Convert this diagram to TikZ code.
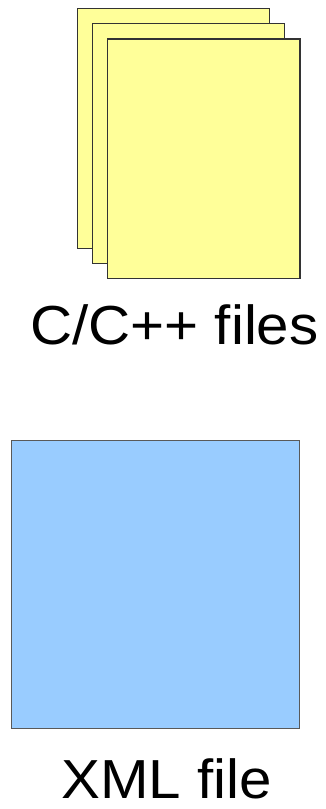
\documentclass[tikz,border=0pt]{standalone}
\usepackage{fontspec}
\setmainfont{Liberation Sans}
\begin{document}
\begin{tikzpicture}[x=1pt,y=1pt,
  sheet/.style={draw=black!80,line width=1.3pt,fill=yellow!40!white,fill=sheetyellow},
  xmlbox/.style={draw=black!65,line width=1.3pt,fill=xmlblue},
  lbl/.style={anchor=base,inner sep=0pt,font=\fontsize{55}{60}\selectfont,xscale=1.06}]
\definecolor{sheetyellow}{HTML}{FFFF99}
\definecolor{xmlblue}{HTML}{99CCFF}
\useasboundingbox (0,0) rectangle (325,809);
\path[sheet] (77.3,809-8.3) rectangle (269.7,809-248.3);
\path[sheet] (92.3,809-23.7) rectangle (284.7,809-263.7);
\path[sheet] (107.7,809-39) rectangle (300,809-278.7);
\node[lbl] (cfiles) at (174.4,809-345) {C/C++ files};
\path[xmlbox] (11.7,809-440.7) rectangle (299.7,809-728.7);
\node[lbl] (xml) at (166.5,809-799) {XML file};
\end{tikzpicture}
\end{document}
